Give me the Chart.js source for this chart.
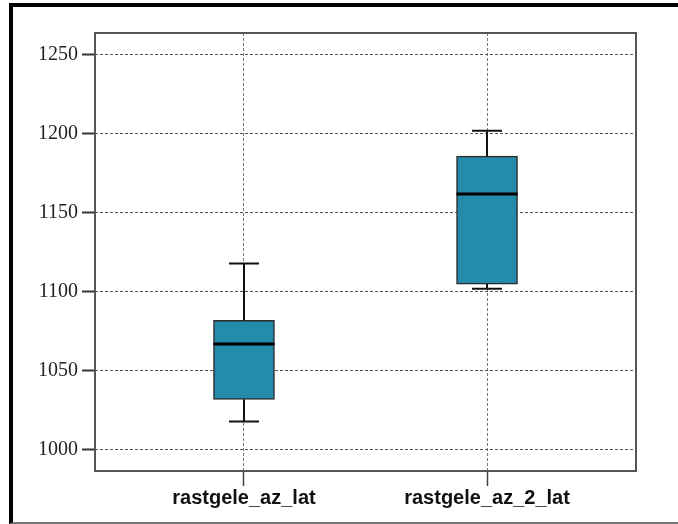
<!DOCTYPE html>
<html>
<head>
<meta charset="utf-8">
<script src="https://cdn.jsdelivr.net/npm/chart.js@4/dist/chart.umd.min.js"></script>
<style>
  body { margin: 0; background: #fff; }
  #wrap { position: relative; width: 678px; height: 524px; overflow: hidden; }
  #frame {
    position: absolute; left: 9px; top: 3px; width: 700px; height: 515px;
    border-left: 4px solid #000; border-top: 4px solid #000; border-bottom: 2px solid #777;
  }
  canvas { position: absolute; left: 0; top: 0; }
</style>
</head>
<body>
<div id="wrap">
  <div id="frame"></div>
  <canvas id="chart" width="678" height="524"></canvas>
</div>
<script>
const categories = ['rastgele_az_lat', 'rastgele_az_2_lat'];
const whiskerLow = [1018, 1102];
const q1 = [1032, 1105];
const medians = [1067, 1162];
const q3 = [1082, 1186];
const whiskerHigh = [1118, 1202];
const yTicks = [1000, 1050, 1100, 1150, 1200, 1250];

const boxColor = '#248bab';

const boxData = categories.map((c, i) => ({ x: i + 1, y: [q1[i], q3[i]] }));

// whiskers, caps, median lines and the plot frame
const boxExtras = {
    id: 'boxExtras',
    afterDatasetsDraw(chart) {
        const ctx = chart.ctx;
        const xs = chart.scales.x;
        const ys = chart.scales.y;
        const meta = chart.getDatasetMeta(0);
        ctx.save();
        categories.forEach((c, i) => {
            const x = xs.getPixelForValue(i + 1);
            const half = meta.data[i].width / 2;
            ctx.strokeStyle = '#111';
            ctx.lineWidth = 2;
            ctx.beginPath();
            ctx.moveTo(x, ys.getPixelForValue(q3[i]));
            ctx.lineTo(x, ys.getPixelForValue(whiskerHigh[i]));
            ctx.moveTo(x, ys.getPixelForValue(q1[i]));
            ctx.lineTo(x, ys.getPixelForValue(whiskerLow[i]));
            ctx.moveTo(x - 15, ys.getPixelForValue(whiskerHigh[i]));
            ctx.lineTo(x + 15, ys.getPixelForValue(whiskerHigh[i]));
            ctx.moveTo(x - 15, ys.getPixelForValue(whiskerLow[i]));
            ctx.lineTo(x + 15, ys.getPixelForValue(whiskerLow[i]));
            ctx.stroke();
            ctx.strokeStyle = '#000';
            ctx.lineWidth = 3;
            ctx.beginPath();
            ctx.moveTo(x - half, ys.getPixelForValue(medians[i]));
            ctx.lineTo(x + half, ys.getPixelForValue(medians[i]));
            ctx.stroke();
        });
        const a = chart.chartArea;
        ctx.strokeStyle = '#555';
        ctx.lineWidth = 2;
        ctx.strokeRect(a.left, a.top, a.right - a.left, a.bottom - a.top);
        ctx.restore();
    }
};

new Chart(document.getElementById('chart'), {
    type: 'bar',
    data: {
        datasets: [{
            data: boxData,
            backgroundColor: boxColor,
            borderColor: '#2b2b2b',
            borderWidth: 1.5,
            borderSkipped: false,
            barThickness: 61
        }]
    },
    options: {
        responsive: false,
        animation: false,
        layout: { padding: { left: 0, right: 42, top: 33, bottom: 0 } },
        plugins: { legend: { display: false }, tooltip: { enabled: false } },
        scales: {
            x: {
                type: 'linear',
                min: 0.387,
                max: 2.613,
                offset: false,
                afterBuildTicks: s => { s.ticks = categories.map((c, i) => ({ value: i + 1 })); },
                afterFit: s => { s.height = 53; },
                ticks: {
                    callback: (v) => categories[Math.round(v) - 1],
                    color: '#111',
                    padding: 0,
                    maxRotation: 0,
                    font: { family: 'Liberation Sans', size: 20, weight: 'bold' }
                },
                grid: {
                    offset: false,
                    color: '#777',
                    tickColor: '#444',
                    tickLength: 15,
                    tickWidth: 1.5,
                    tickBorderDash: []
                },
                border: { display: false, dash: [3, 2] }
            },
            y: {
                min: 986.7,
                max: 1263.9,
                afterBuildTicks: s => { s.ticks = yTicks.map(v => ({ value: v })); },
                afterFit: s => { s.width = 95; },
                ticks: {
                    callback: v => String(v),
                    color: '#222',
                    padding: 4,
                    font: { family: 'Liberation Serif', size: 20 }
                },
                grid: {
                    color: '#555',
                    tickColor: '#333',
                    tickLength: 13,
                    tickWidth: 2,
                    tickBorderDash: []
                },
                border: { display: false, dash: [3, 2] }
            }
        }
    },
    plugins: [boxExtras]
});
</script>
</body>
</html>
